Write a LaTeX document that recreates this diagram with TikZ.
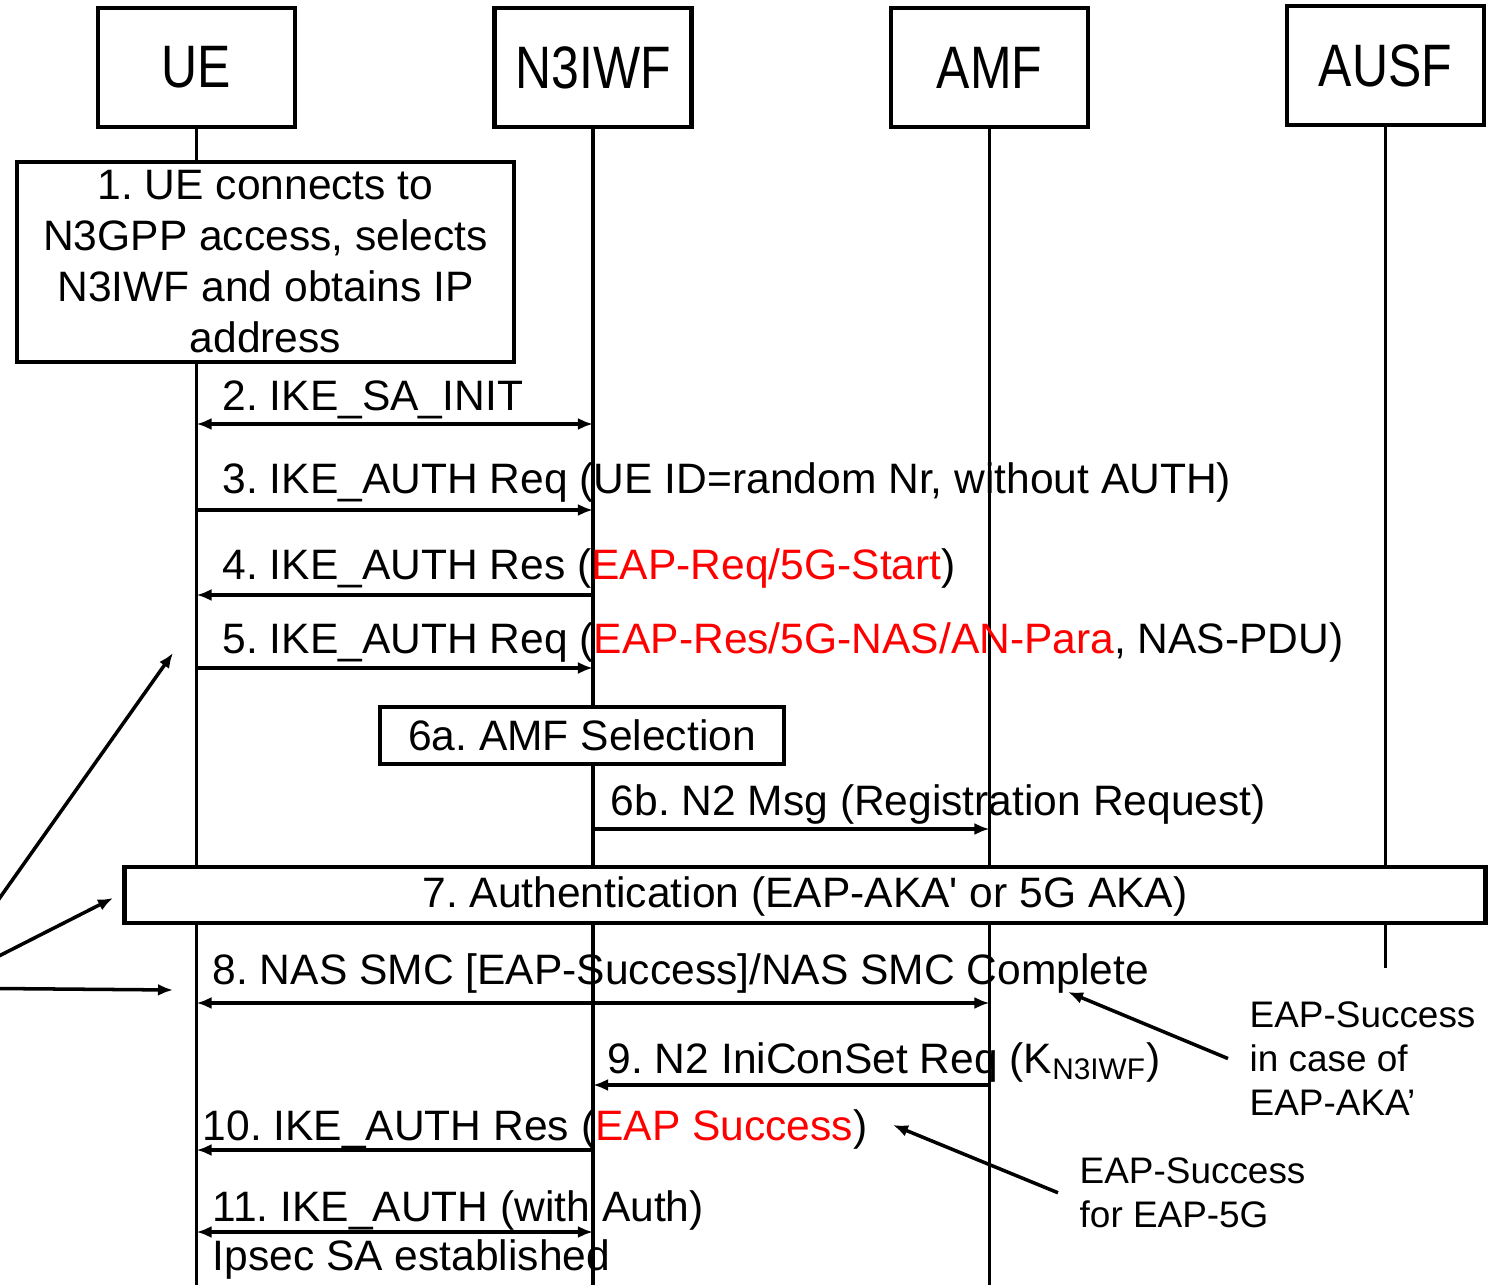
\documentclass[tikz,border=0pt]{standalone}
\usepackage{fontspec}
\setmainfont{Liberation Sans}
\usepackage{xcolor}
\usetikzlibrary{arrows.meta}
\newcommand{\vstretch}[1]{\scalebox{1}[1.2]{#1}}
\frenchspacing

\begin{document}
\begin{tikzpicture}[x=0.01cm, y=-0.01cm, >={Latex[length=1.5mm, width=1.2mm]},
    entity/.style={draw, line width=1.2pt, fill=white, inner sep=0pt, minimum width=1.97cm, minimum height=1.19cm, font=\fontsize{14.2}{17}\selectfont},
    life/.style={line width=1pt},
    msg/.style={line width=1pt},
    lbl/.style={anchor=base west, inner sep=0pt, font=\fontsize{12.1}{14.5}\selectfont},
    stepbox/.style={draw, line width=1.2pt, fill=white, inner sep=0pt, font=\fontsize{12.1}{14.5}\selectfont},
    note/.style={anchor=north west, align=left, inner sep=0pt, font=\fontsize{10.5}{12.5}\selectfont}]
      \path[use as bounding box, clip] (0,0) rectangle (1496,1285);
      % Entities
      \node[entity] (ue) at (196.5,67.5) {\vstretch{UE}};
      \node[entity] (n3) at (593,67.5) {\vstretch{N3IWF}};
      \node[entity] (amf) at (989.5,67.5) {\vstretch{AMF}};
      \node[entity] (ausf) at (1385.5,65.5) {\vstretch{AUSF}};
      % Lifelines
      \coordinate (bot) at (0,1285);
      \coordinate (ausfend) at (1385,968);
      \draw[life] (ue.south) -- (ue |- bot);
      \draw[life] (n3.south) -- (n3 |- bot);
      \draw[life] (amf.south) -- (amf |- bot);
      \draw[life] (ausf.south) -- (ausf |- ausfend);
      % Boxes on the lifelines
      \node[stepbox, align=center, minimum width=4.97cm, minimum height=2cm] (s1) at (265.5,262) {1. UE connects to\\N3GPP access, selects\\N3IWF and obtains IP\\address};
      \node[stepbox, minimum width=4.04cm, minimum height=0.57cm] (s6a) at (582,735.5) {6a. AMF Selection};
      \node[stepbox, minimum width=13.6cm, minimum height=0.56cm, text depth=0.05cm] (s7) at (805,895) {7. Authentication (EAP-AKA\textquotesingle{} or 5G AKA)};
      % Messages
      \coordinate (m2) at (0,424);
      \coordinate (m3) at (0,510);
      \coordinate (m4) at (0,595);
      \coordinate (m5) at (0,668);
      \coordinate (m6) at (0,829);
      \coordinate (m8) at (0,1003);
      \coordinate (m9) at (0,1085);
      \coordinate (m10) at (0,1150);
      \coordinate (m11) at (0,1232);
      \draw[msg, <->] (ue |- m2) -- (n3 |- m2);
      \draw[msg, ->] (ue |- m3) -- (n3 |- m3);
      \draw[msg, ->] (n3 |- m4) -- (ue |- m4);
      \draw[msg, ->] (ue |- m5) -- (n3 |- m5);
      \draw[msg, ->] (n3 |- m6) -- (amf |- m6);
      \draw[msg, <->] (ue |- m8) -- (amf |- m8);
      \draw[msg, ->] (amf |- m9) -- (n3 |- m9);
      \draw[msg, ->] (n3 |- m10) -- (ue |- m10);
      \draw[msg, <->] (ue |- m11) -- (n3 |- m11);
      % Message labels
      \node[lbl] (l2) at (222,411) {2. IKE\_SA\_INIT};
      \node[lbl] (l3) at (222,494) {3. IKE\_AUTH Req (UE ID=random Nr, without AUTH)};
      \node[lbl] (l4) at (222,579) {4. IKE\_AUTH Res (\textcolor{red}{EAP-Req/5G-Start})};
      \node[lbl] (l5) at (222,653) {5. IKE\_AUTH Req (\textcolor{red}{EAP-Res/5G-NAS/AN-Para}, NAS-PDU)};
      \node[lbl] (l6b) at (610,815) {6b. N2 Msg (Registration Request)};
      \node[lbl] (l8) at (212,984) {8. NAS SMC [EAP-Success]/NAS SMC Complete};
      \node[lbl] (l9) at (607,1073) {9. N2 IniConSet Req (K\textsubscript{N3IWF})};
      \node[lbl] (l10) at (202,1140) {10. IKE\_AUTH Res (\textcolor{red}{EAP Success})};
      \node[lbl] (l11) at (212,1221) {11. IKE\_AUTH (with Auth)};
      \node[lbl] (l11b) at (212,1270) {Ipsec SA established};
      % Notes
      \node[note] (akanote) at (1249,1001) {EAP-Success\\in case of\\EAP-AKA’};
      \node[note] (fgnote) at (1079,1157) {EAP-Success\\for EAP-5G};
      \coordinate (akatip) at (1068,992);
      \coordinate (fgtip) at (893,1125);
      \draw[msg, ->] ([xshift=-0.21cm]akanote.west) -- (akatip);
      \draw[msg, ->] ([xshift=-0.21cm]fgnote.west) -- (fgtip);
      % Pointers from the left
      \coordinate (src) at (-64,988);
      \coordinate (t5) at (173,653);
      \coordinate (t7) at (113,898);
      \coordinate (t8) at (173,990);
      \draw[msg, ->] (src) -- (t5);
      \draw[msg, ->] (src) -- (t7);
      \draw[msg, ->] (src) -- (t8);
\end{tikzpicture}
\end{document}
